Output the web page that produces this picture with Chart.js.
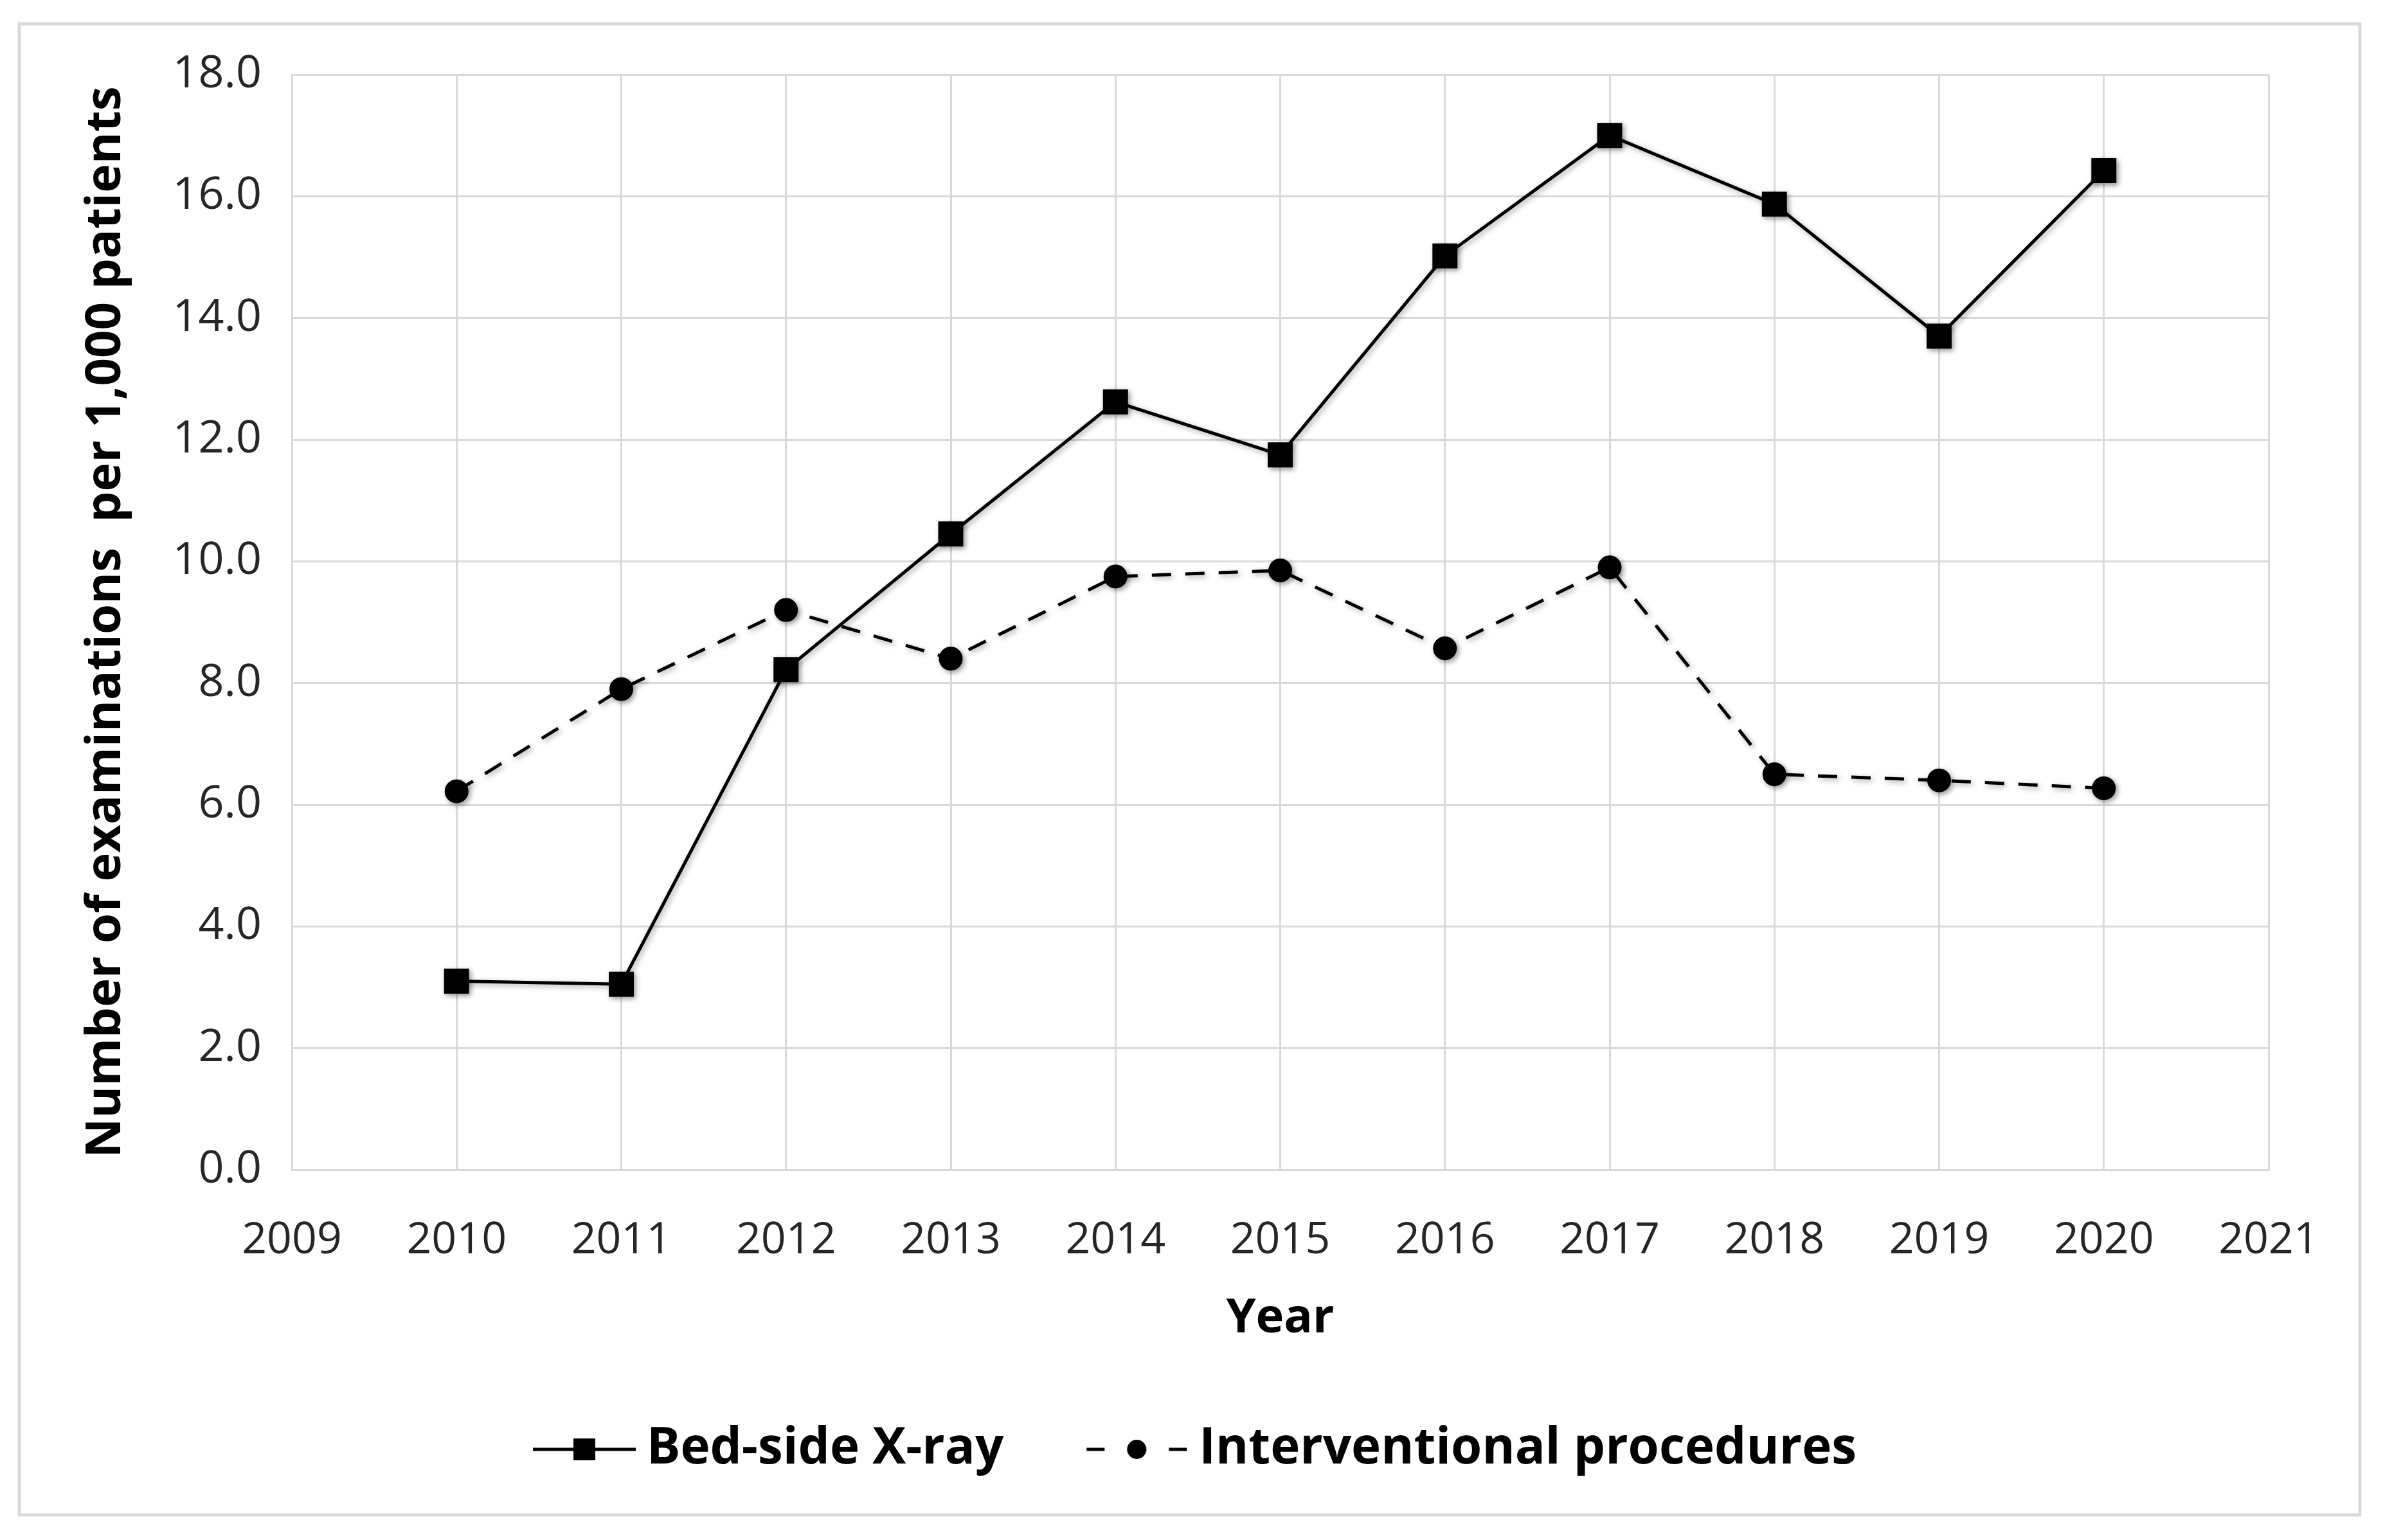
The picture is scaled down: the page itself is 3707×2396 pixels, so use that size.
<!DOCTYPE html>
<html>
<head>
<meta charset="utf-8">
<script src="https://cdn.jsdelivr.net/npm/chart.js@4.4.0/dist/chart.umd.min.js"></script>
<style>
  html, body { margin: 0; padding: 0; background: #fff; }
  #wrap { width: 3707px; height: 2396px; }
</style>
</head>
<body>
<div id="wrap"><canvas id="lineChart" width="3707" height="2396"></canvas></div>
<script>
const years = [2010, 2011, 2012, 2013, 2014, 2015, 2016, 2017, 2018, 2019, 2020];
const bedside = [3.1, 3.05, 8.22, 10.45, 12.62, 11.75, 15.02, 17.0, 15.87, 13.7, 16.42];
const interventional = [6.22, 7.9, 9.2, 8.4, 9.75, 9.85, 8.57, 9.9, 6.5, 6.4, 6.27];
const seriesNames = ['Bed-side X-ray', 'Interventional procedures'];

const font = '"Open Sans", "Noto Sans", sans-serif';

// legend swatches: line with marker in the middle (wider than the legend box so it sits close to the text)
function swatch(dashed) {
    const c = document.createElement('canvas');
    c.width = 160; c.height = 40;
    const g = c.getContext('2d');
    g.strokeStyle = '#000';
    g.fillStyle = '#000';
    g.lineWidth = 5;
    if (dashed) {
        g.beginPath();
        g.moveTo(2, 20); g.lineTo(30, 20);
        g.moveTo(130, 20); g.lineTo(158, 20);
        g.stroke();
        g.beginPath();
        g.arc(80, 20, 15, 0, Math.PI * 2);
        g.fill();
    } else {
        g.beginPath();
        g.moveTo(0, 20); g.lineTo(160, 20);
        g.stroke();
        g.fillRect(80 - 17, 20 - 17, 34, 34);
    }
    return c;
}
const swatches = [swatch(false), swatch(true)];

const frame = {
    id: 'frame',
    afterLayout(chart) {
        chart.legend.left += 85;
        chart.legend.right += 85;
        chart.legend.top -= 36;
        chart.legend.bottom -= 36;
    },
    beforeDraw(chart) {
        const ctx = chart.ctx;
        ctx.save();
        ctx.strokeStyle = '#d9d9d9';
        ctx.lineWidth = 5;
        ctx.strokeRect(30, 37, 3641, 2320);
        ctx.restore();
    },
    beforeDatasetsDraw(chart) {
        const ctx = chart.ctx;
        ctx.save();
        ctx.shadowColor = 'rgba(0,0,0,0.35)';
        ctx.shadowBlur = 8;
        ctx.shadowOffsetX = 3;
        ctx.shadowOffsetY = 3;
    },
    afterDatasetsDraw(chart) {
        chart.ctx.restore();
    }
};

const lineCtx = document.getElementById('lineChart').getContext('2d');
new Chart(lineCtx, {
    type: 'line',
    data: {
        datasets: [{
            label: seriesNames[0],
            data: years.map((y, i) => ({ x: y, y: bedside[i] })),
            borderColor: '#000',
            backgroundColor: '#000',
            borderWidth: 5,
            pointStyle: 'rect',
            pointRadius: 24,
            pointHoverRadius: 24,
            tension: 0,
        }, {
            label: seriesNames[1],
            data: years.map((y, i) => ({ x: y, y: interventional[i] })),
            borderColor: '#000',
            backgroundColor: '#000',
            borderWidth: 5,
            borderDash: [30, 22],
            pointStyle: 'circle',
            pointRadius: 16,
            pointHoverRadius: 16,
            tension: 0,
        }]
    },
    options: {
        responsive: false,
        animation: false,
        devicePixelRatio: 1,
        layout: { padding: { left: 40, top: 116, right: 178, bottom: 56 } },
        plugins: {
            tooltip: { enabled: false },
            legend: {
                position: 'bottom',
                labels: {
                    usePointStyle: true,
                    pointStyleWidth: 116,
                    padding: 149,
                    color: '#000',
                    font: { family: font, size: 78, weight: 'bold' },
                    generateLabels(chart) {
                        const items = Chart.defaults.plugins.legend.labels.generateLabels(chart);
                        items.forEach((it, i) => { it.pointStyle = swatches[i]; it.lineWidth = 0; });
                        return items;
                    }
                }
            }
        },
        scales: {
            x: {
                type: 'linear',
                min: 2009,
                max: 2021,
                afterFit(scale) { scale.height = 283; },
                grid: { color: '#d9d9d9', lineWidth: 3, drawTicks: false },
                border: { color: '#d9d9d9', width: 3 },
                ticks: {
                    stepSize: 1,
                    padding: 70,
                    color: '#262626',
                    font: { family: font, size: 68 },
                    callback: v => String(v)
                },
                title: {
                    display: true,
                    text: 'Year',
                    color: '#000',
                    padding: { top: 0, bottom: 7 },
                    font: { family: font, size: 74, weight: 'bold' }
                }
            },
            y: {
                min: 0,
                max: 18,
                afterFit(scale) { scale.width = 414; },
                grid: { color: '#d9d9d9', lineWidth: 3, drawTicks: false },
                border: { color: '#d9d9d9', width: 3 },
                ticks: {
                    stepSize: 2,
                    padding: 47,
                    color: '#262626',
                    font: { family: font, size: 70 },
                    callback: v => v.toFixed(1)
                },
                title: {
                    display: true,
                    text: 'Number of examinations  per 1,000 patients',
                    color: '#000',
                    padding: { top: 80, bottom: 0 },
                    font: { family: font, size: 76, weight: 'bold' }
                }
            }
        }
    },
    plugins: [frame]
});
</script>
</body>
</html>
